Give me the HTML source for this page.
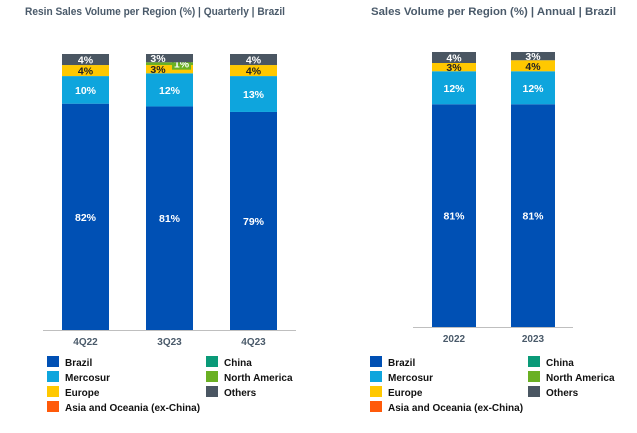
<!DOCTYPE html>
<html><head><meta charset="utf-8"><style>
body{margin:0;background:#fff;}
svg{display:block;font-family:"Liberation Sans",sans-serif;}
</style></head><body>
<svg id="c" width="637" height="433"></svg>
<script>
const regions=["Brazil","Mercosur","Europe","Asia and Oceania (ex-China)","China","North America","Others"];
const colors=["#0050b4","#0ea5dd","#ffc800","#ff5a0a","#0a9a78","#6ab023","#4a5662"];
const qCats=["4Q22","3Q23","4Q23"];
const qBrazil=[82,81,79],qMercosur=[10,12,13],qEurope=[4,3,4],qAsia=[0,0,0],qChina=[0,0,0],qNA=[0,1,0],qOthers=[4,3,4];
const aCats=["2022","2023"];
const aBrazil=[81,81],aMercosur=[12,12],aEurope=[3,4],aAsia=[0,0],aChina=[0,0],aNA=[0,0],aOthers=[4,3];
const NS="http://www.w3.org/2000/svg";
const svg=document.getElementById('c');
function mk(t,a,p){const e=document.createElementNS(NS,t);for(const k in a)e.setAttribute(k,a[k]);(p||svg).appendChild(e);return e;}
function chart(o){
  const g=mk('g',{});
  
  
  const t=mk('text',{x:o.tx,y:15,'font-size':11,'font-weight':'bold',fill:'#4a5a6a',textLength:o.tl,lengthAdjust:'spacingAndGlyphs'},g);
  t.textContent=o.title;
  
  
  const y=v=>o.base-v*o.ppu;
  const series=[o.s[0],o.s[1],o.s[2],o.s[3],o.s[4],o.s[5],o.s[6]];
  o.cats.forEach((c,i)=>{
    const x=o.x0+i*o.step;let cum=0;
    const hasNA=series[5][i]>0;
    series.forEach((s,j)=>{
      const v=s[i];if(!v)return;
      const r=mk('rect',{x:x,y:y(cum+v),width:o.bw,height:v*o.ppu,fill:colors[j]},g);
      
      
      const cy=y(cum+v/2)+4;
      const dark=(j==2);
      let lx=x+o.bw/2;
      if(hasNA&&j>=2)lx=x+12;
      if(j==5){const b=mk('rect',{x:x+o.bw-21,y:y(cum+v/2)-7,width:19,height:13,fill:colors[5]},g);
        lx=x+o.bw-11.5;}
      const l=mk('text',{x:lx,y:cy,'font-size':10.5,'font-weight':'bold','text-anchor':'middle',fill:dark?'#222':'#fff'},g);
      l.textContent=v+'%';
      
      
      cum+=v;
    });
    const cl=mk('text',{x:x+o.bw/2,y:o.base+15,'font-size':10,'font-weight':'bold','text-anchor':'middle',fill:'#4a5a6a'},g);
    cl.textContent=c;
    
    
  });
  const ax=mk('line',{x1:o.ax1,x2:o.ax2,y1:o.base+0.5,y2:o.base+0.5,stroke:'#bfbfbf'},g);
  
  
  const order=[[0,0,0],[1,0,1],[2,0,2],[3,0,3],[4,1,0],[5,1,1],[6,1,2]];
  order.forEach(([j,col,row])=>{
    const lx=o.lx+col*o.lcol,ly=356+row*15;
    const le=mk('g',{},g);
    
    
    mk('rect',{x:lx,y:ly,width:12,height:11,fill:colors[j]},le);
    const tt=mk('text',{x:lx+18,y:ly+10,'font-size':10,'font-weight':'bold',fill:'#111'},le);
    tt.textContent=regions[j];
  });
}
chart({name:'quarterly-chart',title:'Resin Sales Volume per Region (%) | Quarterly | Brazil',tx:25,tl:260,cats:qCats,
  s:[qBrazil,qMercosur,qEurope,qAsia,qChina,qNA,qOthers],x0:62,step:84,bw:47,base:330,ppu:2.76,ax1:43,ax2:296,lx:47,lcol:159});
chart({name:'annual-chart',title:'Sales Volume per Region (%) | Annual | Brazil',tx:371,tl:245,cats:aCats,
  s:[aBrazil,aMercosur,aEurope,aAsia,aChina,aNA,aOthers],x0:432,step:79,bw:44,base:327,ppu:2.75,ax1:413,ax2:573,lx:370,lcol:158});
</script>
</body></html>
